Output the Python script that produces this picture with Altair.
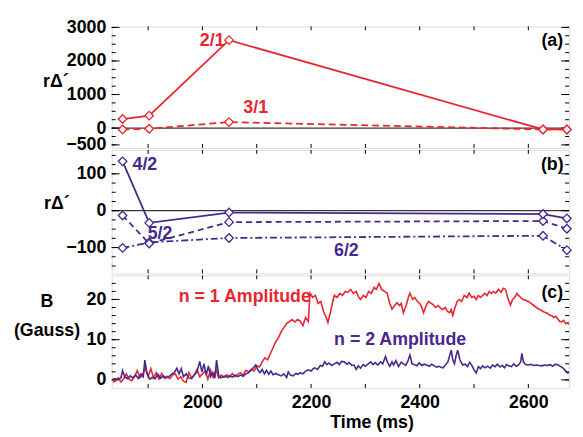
import altair as alt
import pandas as pd

# ---------------- data ----------------
# Panel (a)/(b): r*Delta' at the analysed times
times = [1853, 1902, 2049, 2627, 2671]
m21 = [270, 370, 2620, -40, -40]
m31 = [-40, -20, 180, -40, -40]
m42 = [134, -33, -5, -9, -21]
m52 = [-13, -89, -31, -28, -49]
m62 = [-101, -86, -74, -68, -107]

# Panel (c): mode amplitudes (Gauss)
n1_t = [1835, 1840, 1845, 1850, 1855, 1860, 1865, 1870, 1875, 1880, 1885, 1890, 1895, 1900, 1905,
        1910, 1915, 1920, 1925, 1930, 1935, 1940, 1945, 1950, 1955, 1960, 1965, 1970, 1975, 1980,
        1985, 1990, 1995, 2000, 2005, 2010, 2015, 2020, 2025, 2030, 2035, 2040, 2045, 2050, 2055,
        2060, 2065, 2070, 2075, 2080, 2085, 2090, 2095, 2100, 2105, 2110, 2115, 2120, 2125, 2130,
        2135, 2140, 2145, 2150, 2155, 2160, 2165, 2170, 2175, 2180, 2185, 2190, 2195, 2198, 2203,
        2208, 2213, 2218, 2223, 2228, 2231, 2236, 2240, 2243, 2248, 2253, 2258, 2263, 2268, 2273,
        2278, 2283, 2288, 2291, 2296, 2301, 2306, 2311, 2316, 2320, 2325, 2330, 2335, 2340, 2345,
        2349, 2354, 2358, 2363, 2366, 2370, 2375, 2379, 2382, 2387, 2391, 2395, 2400, 2404, 2407,
        2412, 2416, 2419, 2424, 2429, 2434, 2437, 2442, 2447, 2451, 2455, 2458, 2461, 2465, 2469,
        2473, 2477, 2482, 2487, 2491, 2496, 2500, 2504, 2508, 2512, 2516, 2520, 2524, 2528, 2532,
        2536, 2540, 2545, 2550, 2554, 2558, 2562, 2567, 2571, 2575, 2579, 2582, 2586, 2590, 2595,
        2600, 2605, 2610, 2615, 2619, 2625, 2630, 2636, 2640, 2643, 2647, 2651, 2655, 2658, 2661,
        2665, 2669, 2673, 2677]
n1_v = [-0.5, -0.3, 0.5, -0.5, 0.3, 1.5, 0.2, -0.2, 0.8, 2.3, 0.5, 1.2, 3.0, 0.8, 2.8,
        0.5, 1.8, 0.2, 1.6, 0.4, 0.9, 0.3, 1.2, 1.5, 0.2, 0.8, -0.3, -0.6, 1.8, 0.5,
        1.2, 2.6, 0.8, 1.5, 2.2, 0.2, 2.4, 0.6, 2.6, 0.5, 1.2, 0.6, 1.3, 0.8, 1.6,
        0.8, 1.4, 1.8, 1.2, 2.4, 2.0, 2.6, 2.2, 3.5, 3.2, 4.5, 5.5, 5.0, 6.5, 8.0,
        9.5, 10.5, 12.0, 13.0, 14.0, 14.5, 15.0, 14.4, 15.0, 14.6, 13.5, 15.5, 14.5, 21.6, 20.5,
        21.0, 19.0, 19.5, 17.0, 15.5, 14.3, 17.0, 19.5, 21.0, 20.5, 21.5, 21.0, 22.0, 21.8, 22.5,
        21.5, 22.0, 20.5, 20.0, 21.0, 20.5, 22.0, 21.5, 23.0, 22.5, 24.0, 22.5, 22.0, 21.6, 19.0,
        17.6, 18.5, 19.2, 18.5, 19.0, 16.7, 18.5, 20.5, 21.6, 20.0, 20.5, 19.6, 19.0, 18.0, 16.7,
        18.5, 19.5, 19.2, 18.8, 18.0, 18.5, 18.0, 17.5, 18.0, 17.0, 16.7, 17.5, 16.0, 18.0, 19.5,
        20.0, 19.5, 21.0, 20.5, 21.6, 20.5, 20.8, 20.0, 21.0, 20.5, 21.0, 21.5, 21.0, 22.0, 21.5,
        22.0, 21.6, 22.5, 21.8, 22.8, 22.5, 20.5, 18.6, 20.0, 20.5, 21.5, 21.0, 20.5, 20.0, 19.8,
        19.5, 19.0, 18.5, 18.0, 17.6, 17.2, 16.8, 16.5, 16.0, 16.0, 15.5, 15.8, 15.0, 14.5, 14.4,
        14.8, 14.0, 14.2, 13.6]

n2_t = [1835, 1840, 1845, 1850, 1853, 1857, 1862, 1867, 1872, 1877, 1882, 1887, 1891, 1894, 1898,
        1903, 1908, 1913, 1918, 1923, 1928, 1933, 1938, 1943, 1948, 1953, 1957, 1961, 1965, 1970,
        1975, 1980, 1985, 1990, 1995, 1999, 2003, 2007, 2011, 2015, 2019, 2023, 2026, 2030, 2034,
        2038, 2042, 2046, 2050, 2055, 2060, 2065, 2070, 2075, 2080, 2085, 2090, 2095, 2098, 2102,
        2106, 2110, 2114, 2118, 2122, 2126, 2130, 2135, 2140, 2145, 2150, 2155, 2158, 2162, 2167,
        2172, 2176, 2180, 2185, 2190, 2195, 2200, 2204, 2207, 2212, 2217, 2221, 2225, 2229, 2233,
        2238, 2243, 2248, 2252, 2256, 2261, 2266, 2270, 2275, 2279, 2283, 2287, 2291, 2296, 2300,
        2305, 2310, 2314, 2318, 2323, 2328, 2332, 2337, 2341, 2345, 2349, 2352, 2356, 2361, 2366,
        2370, 2374, 2378, 2382, 2386, 2390, 2395, 2399, 2404, 2408, 2413, 2418, 2422, 2427, 2431,
        2436, 2440, 2443, 2448, 2452, 2458, 2461, 2464, 2467, 2470, 2474, 2479, 2484, 2488, 2492,
        2496, 2500, 2504, 2508, 2512, 2516, 2520, 2525, 2530, 2534, 2539, 2543, 2548, 2552, 2556,
        2560, 2564, 2569, 2573, 2578, 2582, 2586, 2588, 2591, 2595, 2600, 2605, 2610, 2615, 2620,
        2625, 2630, 2635, 2640, 2645, 2650, 2655, 2660, 2665, 2670, 2673, 2677]
n2_v = [0.2, 0.3, 0.1, 0.5, 2.3, 0.8, 0.3, 1.0, 0.5, 1.2, 0.4, 1.5, 0.8, 4.9, 1.5,
        0.2, 0.6, 0.3, 1.4, 0.4, 1.0, 0.5, 0.8, 1.4, 1.8, 2.9, 1.5, 2.8, 0.8, 1.5,
        0.5, 0.3, 1.2, 2.0, 4.6, 2.0, 4.0, 1.2, 3.5, 0.8, 1.8, 0.5, 4.9, 1.0, 0.5,
        0.8, 1.0, 0.6, 1.0, 0.7, 1.2, 0.8, 1.2, 0.9, 1.5, 1.8, 2.5, 3.2, 3.7, 2.5,
        1.8, 2.6, 1.5, 2.4, 1.4, 2.2, 1.3, 1.6, 1.3, 1.0, 1.5, 0.6, 2.0, 1.2, 1.0,
        1.6, 1.4, 1.8, 1.5, 2.2, 2.5, 2.2, 2.8, 3.0, 2.6, 3.6, 3.4, 4.5, 3.8, 4.2,
        3.6, 4.0, 4.4, 3.8, 4.6, 4.5, 3.9, 4.3, 3.6, 3.7, 2.6, 3.5, 2.9, 3.8, 3.4,
        4.0, 4.5, 3.8, 4.3, 3.7, 4.5, 4.0, 5.8, 4.3, 3.4, 4.5, 3.7, 4.8, 3.3, 4.4,
        4.0, 3.6, 4.6, 6.2, 4.0, 3.8, 3.5, 4.2, 3.6, 3.9, 3.7, 3.4, 3.9, 3.5, 3.2,
        3.4, 3.1, 3.0, 3.8, 4.5, 7.4, 5.0, 4.0, 6.0, 7.4, 5.0, 3.7, 3.9, 3.3, 4.4,
        3.6, 2.5, 1.7, 3.3, 2.8, 3.5, 3.0, 3.4, 2.9, 3.7, 3.3, 3.9, 3.2, 3.6, 3.0,
        3.8, 3.5, 3.3, 4.0, 3.4, 3.7, 4.5, 6.6, 4.5, 3.8, 3.7, 3.9, 3.6, 3.7, 3.6,
        3.5, 3.7, 3.6, 3.8, 3.4, 3.9, 3.7, 3.3, 2.8, 2.0, 1.7, 2.0]

# axis tick values
x_ticks = [1900, 2000, 2100, 2200, 2300, 2400, 2500, 2600]
x_labels = [2000, 2200, 2400, 2600]
a_major = [3000, 2000, 1000, 0, -500]
a_minor = [-500, -250, 0, 250, 500, 750, 1000, 1250, 1500, 1750, 2000, 2250, 2500, 2750, 3000]
b_major = [100, 0, -100]
b_minor = [-150, -125, -100, -75, -50, -25, 0, 25, 50, 75, 100, 125, 150]
c_major = [0, 10, 20]
c_minor = [0, 2, 4, 6, 8, 10, 12, 14, 16, 18, 20, 22, 24]

# annotations (anchored in data coordinates)
ann_a = pd.DataFrame({"t": [2018, 2098, 2644], "v": [2580, 593, 2580],
                      "s": ["2/1", "3/1", "(a)"], "k": ["red", "red", "black"]})
ann_b = pd.DataFrame({"t": [1894, 1922, 2265, 2644], "v": [123, -64, -109, 123],
                      "s": ["4/2", "5/2", "6/2", "(b)"], "k": ["purple", "purple", "purple", "black"]})
ann_c = pd.DataFrame({"t": [2078, 2364, 2644], "v": [20.7, 10, 21.7],
                      "s": ["n = 1 Amplitude", "n = 2 Amplitude", "(c)"], "k": ["red", "purple", "black"]})

# ---------------- style ----------------
RED = "#E8262F"
PURPLE = "#47288F"
FONT = "Liberation Sans"
W = 463
XDOM = [1833, 2675]
xscale = alt.Scale(domain=XDOM, nice=False, zero=False)
color_scale = alt.Scale(domain=["red", "purple", "black"], range=[RED, PURPLE, "black"])


def yaxis(values, title, tx, ty, lh=None):
    kw = dict(values=values, ticks=False, domain=False, grid=False, labelFont=FONT, format="d",
              labelFontSize=18, labelFontWeight="bold", labelColor="black", labelPadding=6,
              labelOverlap=False, labelFlush=False, labelBound=False,
              title=title, titleFont=FONT, titleFontSize=18, titleFontWeight="bold",
              titleColor="black", titleAngle=0, titleAlign="center", titleBaseline="middle",
              titleX=tx, titleY=ty)
    if lh:
        kw["titleLineHeight"] = lh
    return alt.Axis(**kw)


class Panel:
    def __init__(self, yscale, yax, xax, height):
        self.ys = yscale
        self.yax = yax
        self.xax = xax
        self.h = height

    def X(self, f="t:Q"):
        return alt.X(f, scale=xscale, axis=self.xax)

    def Y(self, f="v:Q"):
        return alt.Y(f, scale=self.ys, axis=self.yax)

    def yticks(self, yvals, length):
        base = alt.Chart(pd.DataFrame({"v": yvals}))
        left = base.mark_rule(color="black", strokeWidth=1).encode(
            y=self.Y(), x=alt.value(0), x2=alt.value(length))
        right = base.mark_rule(color="black", strokeWidth=1).encode(
            y=self.Y(), x=alt.value(W - length), x2=alt.value(W))
        return [left, right]

    def xticks(self):
        base = alt.Chart(pd.DataFrame({"t": x_ticks}))
        top = base.mark_rule(color="black", strokeWidth=1).encode(
            x=self.X(), y=alt.value(0), y2=alt.value(4))
        bot = base.mark_rule(color="black", strokeWidth=1).encode(
            x=self.X(), y=alt.value(self.h - 4), y2=alt.value(self.h))
        return [top, bot]

    def zero(self):
        return alt.Chart(pd.DataFrame({"v": [0]})).mark_rule(color="black", strokeWidth=1).encode(
            y=self.Y())

    def mode(self, ts, vals, color, dash):
        base = alt.Chart(pd.DataFrame({"t": ts, "v": vals}))
        kw = dict(color=color, strokeWidth=1.8)
        if dash:
            kw["strokeDash"] = dash
        line = base.mark_line(**kw).encode(x=self.X(), y=self.Y())
        pts = base.mark_point(shape="diamond", filled=True, fill="white", stroke=color,
                              strokeWidth=1.3, size=75, opacity=1).encode(x=self.X(), y=self.Y())
        return [line, pts]

    def series(self, ts, vals, color):
        return alt.Chart(pd.DataFrame({"t": ts, "v": vals})).mark_line(
            color=color, strokeWidth=1.6, clip=True).encode(x=self.X(), y=self.Y())

    def labels(self, df):
        return alt.Chart(df).mark_text(font=FONT, fontSize=18, fontWeight="bold",
                                       align="center", baseline="middle").encode(
            x=self.X(), y=self.Y(), text="s:N",
            color=alt.Color("k:N", scale=color_scale, legend=None))


# ---------------- panel (a) ----------------
HA = 123
A = Panel(alt.Scale(domain=[-590, 3030], nice=False, zero=False),
          yaxis(a_major, "rΔ´", -57, 56), None, HA)
pa = alt.layer(
    A.zero(),
    *A.yticks(a_minor, 4),
    *A.yticks(a_major, 8),
    *A.xticks(),
    *A.mode(times, m31, RED, [7, 4]),
    *A.mode(times, m21, RED, None),
    A.labels(ann_a),
).properties(width=W, height=HA)

# ---------------- panel (b) ----------------
HB = 125
B = Panel(alt.Scale(domain=[-170, 165], nice=False, zero=False),
          yaxis(b_major, "rΔ´", -56, 54), None, HB)
pb = alt.layer(
    B.zero(),
    *B.yticks(b_minor, 4),
    *B.yticks(b_major, 8),
    *B.xticks(),
    *B.mode(times, m62, PURPLE, [7, 3, 2, 3]),
    *B.mode(times, m52, PURPLE, [6, 4]),
    *B.mode(times, m42, PURPLE, None),
    B.labels(ann_b),
).properties(width=W, height=HB)

# ---------------- panel (c) ----------------
HC = 114
xaxis_c = alt.Axis(values=x_labels, ticks=False, domain=False, grid=False, format="d",
                   labelFont=FONT, labelFontSize=18, labelFontWeight="bold", labelColor="black",
                   labelPadding=6, labelFlush=False, labelOverlap=False,
                   title="Time (ms)", titleFont=FONT, titleFontSize=18,
                   titleFontWeight="bold", titleColor="black", titleX=263, titleY=35,
                   titleAlign="center", titleBaseline="middle")
C = Panel(alt.Scale(domain=[-2, 26], nice=False, zero=False),
          yaxis(c_major, ["B", "(Gauss)"], -66, 27, 29), xaxis_c, HC)
pc = alt.layer(
    *C.yticks(c_minor, 4),
    *C.yticks(c_major, 8),
    *C.xticks(),
    C.series(n1_t, n1_v, RED),
    C.series(n2_t, n2_v, PURPLE),
    C.labels(ann_c),
).properties(width=W, height=HC)

chart = alt.vconcat(pa, pb, pc, spacing=2, bounds="flush").properties(
    padding={"left": 4, "top": 7, "right": 0, "bottom": 0}
).configure_view(stroke="black", strokeWidth=1.5).configure(background="white")

chart.save("out.html", embed_options={"renderer": "svg", "actions": False})
